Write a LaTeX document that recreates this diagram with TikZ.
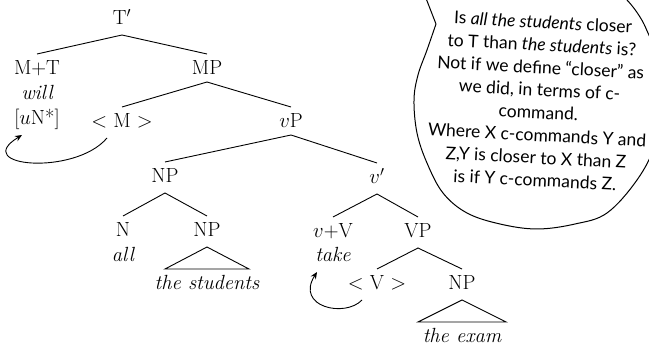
\documentclass[tikz,border=0pt]{standalone}
\usepackage{fontspec}
\newfontfamily\bubblefont{Lato}
\usetikzlibrary{arrows.meta}
\begin{document}
\begin{tikzpicture}[x=1pt,y=-1pt,
  lab/.style={anchor=base, inner sep=4pt, outer sep=0pt, text height=17pt, text depth=6pt, font=\fontsize{20.5}{24}\selectfont},
  word/.style={anchor=base, inner sep=4pt, outer sep=0pt, text height=17pt, text depth=6pt, font=\fontsize{20.5}{24}\selectfont\itshape},
  edge/.style={line width=0.9pt},
  arr/.style={line width=0.9pt, -{Stealth[length=7pt,width=6pt]}},
  bubble/.style={line width=1pt},
  ]
\useasboundingbox (0,0) rectangle (649,347);
\clip (0,0) rectangle (649,347);

% tree nodes
\node[lab] (T) at (122,25) {T$'$};
\node[lab] (MT) at (37,75) {M+T};
\node[word] (will) at (37,100) {will};
\node[lab] (uN) at (37,125) {[$u$N*]};
\node[lab] (MP) at (207,75) {MP};
\node[lab] (M) at (122,128) {$<$ M $>$};
\node[lab] (vP) at (291,128) {$v$P};
\node[lab] (NP) at (165,183) {NP};
\node[lab] (vbar) at (377,184) {$v'$};
\node[lab] (N) at (123,237) {N};
\node[word] (all) at (123,262) {all};
\node[lab] (NPs) at (207,237) {NP};
\node[word] (stud) at (207,290) {the students};
\node[lab] (vV) at (333,238) {$v$+V};
\node[word] (take) at (333,262) {take};
\node[lab] (VP) at (418,238) {VP};
\node[lab] (V) at (377,290) {$<$ V $>$};
\node[lab] (NPe) at (462,290) {NP};
\node[word] (exam) at (462,343) {the exam};

% edges
\draw[edge] (MT.north) -- (T.south) -- (MP.north);
\draw[edge] (M.north) -- ([yshift=3pt]MP.south) -- (vP.north);
\draw[edge] (NP.north) -- ([yshift=3pt]vP.south) -- (vbar.north);
\draw[edge] (N.north) -- (NP.south) -- (NPs.north);
\draw[edge] (vV.north) -- (vbar.south) -- (VP.north);
\draw[edge] (V.north) -- (VP.south) -- (NPe.north);
\draw[edge] (NPs.south) -- ([xshift=-42pt]stud.north) -- ([xshift=42pt]stud.north) -- cycle;
\draw[edge] (NPe.south) -- ([xshift=-44pt]exam.north) -- ([xshift=44pt]exam.north) -- cycle;

% movement arrows
\draw[arr] ([xshift=-15pt]M.south) .. controls +(-32,38) and +(-52,32) .. ([xshift=-15pt]uN.south);
\draw[arr] ([xshift=-15pt]V.south) .. controls +(-17,18) and +(-22,35) .. ([xshift=-16pt]take.south);

% speech bubble
\coordinate (tipL) at (422,-12);
\coordinate (joint) at (436,24);
\draw[bubble] (tipL) -- (joint);
\draw[bubble] plot[smooth, tension=0.6] coordinates {(436,24) (427,50) (418,75) (414,100) (417,133) (427,163) (443,193) (467,213) (500,224) (537,229) (575,224) (607,213) (637,180) (655,145) (664,100) (659,60) (648,33) (640,17) (627,0) (605,-20)};

\node[rotate=-3, align=center, inner sep=0pt, font=\bubblefont\fontsize{17.5}{22.6}\selectfont] (bub) at (539,101)
 {Is \textit{all the students} closer\\
  to T than \textit{the students} is?\\
  Not if we define “closer” as\\
  we did, in terms of c-\\
  command.\\
  Where X c-commands Y and\\
  Z,Y is closer to X than Z\\
  is if Y c-commands Z.};
\end{tikzpicture}
\end{document}
